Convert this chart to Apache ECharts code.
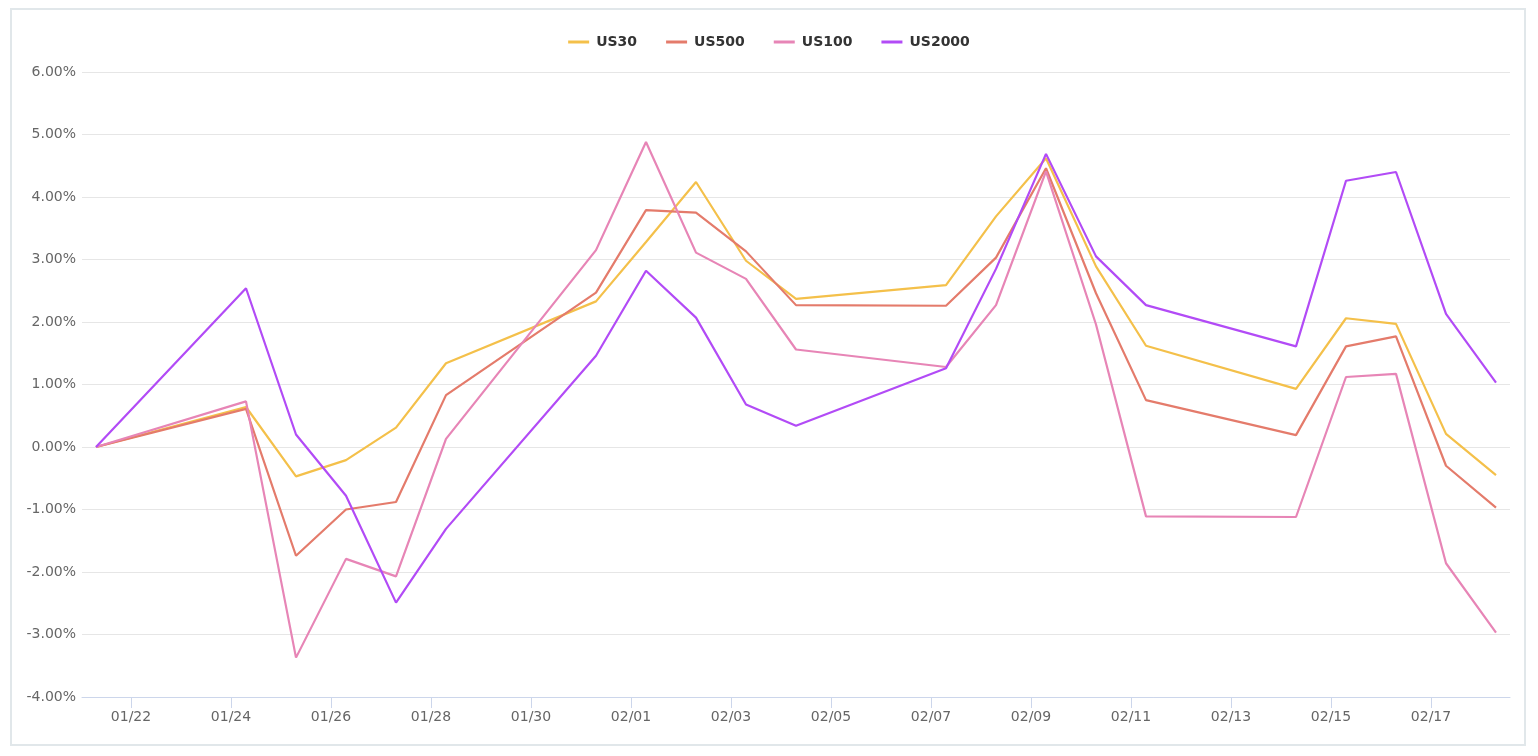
<!DOCTYPE html>
<html>
<head>
<meta charset="utf-8">
<script src="https://cdn.jsdelivr.net/npm/echarts@6/dist/echarts.min.js"></script>
<style>
  html, body { margin: 0; padding: 0; background: #fff; }
  #frame { position: absolute; left: 10px; top: 8px; width: 1516px; height: 738px; box-sizing: border-box; border: 2px solid #e1e7ea; }
  #chart { position: absolute; left: 0; top: 0; width: 1538px; height: 756px; }
</style>
</head>
<body>
<div id="frame"></div>
<div id="chart"></div>
<script>
// ---- data ----
const dates = ['2022-01-21','2022-01-24','2022-01-25','2022-01-26','2022-01-27','2022-01-28',
  '2022-01-31','2022-02-01','2022-02-02','2022-02-03','2022-02-04',
  '2022-02-07','2022-02-08','2022-02-09','2022-02-10','2022-02-11',
  '2022-02-14','2022-02-15','2022-02-16','2022-02-17','2022-02-18'];
const timeOfDay = 'T07:12:00Z';
const seriesNames = ['US30','US500','US100','US2000'];
const us30   = [0, 0.64, -0.47, -0.21, 0.31, 1.34, 2.33, 3.28, 4.24, 2.98, 2.37, 2.59, 3.69, 4.62, 2.89, 1.62, 0.93, 2.06, 1.97, 0.21, -0.45];
const us500  = [0, 0.61, -1.74, -1.00, -0.88, 0.83, 2.47, 3.79, 3.75, 3.13, 2.27, 2.26, 3.03, 4.46, 2.46, 0.75, 0.19, 1.61, 1.77, -0.30, -0.97];
const us100  = [0, 0.73, -3.37, -1.79, -2.07, 0.13, 3.15, 4.88, 3.11, 2.69, 1.56, 1.28, 2.27, 4.41, 1.96, -1.11, -1.12, 1.12, 1.17, -1.86, -2.97];
const us2000 = [0, 2.54, 0.20, -0.78, -2.49, -1.31, 1.46, 2.82, 2.07, 0.68, 0.34, 1.26, 2.85, 4.69, 3.05, 2.27, 1.61, 4.26, 4.40, 2.13, 1.03];
const tickDates = ['2022-01-22','2022-01-24','2022-01-26','2022-01-28','2022-01-30','2022-02-01',
  '2022-02-03','2022-02-05','2022-02-07','2022-02-09','2022-02-11','2022-02-13','2022-02-15','2022-02-17'];
const yMin = -4, yMax = 6, yStep = 1;
const colors = ['#f4c04a', '#e47b6b', '#e785b6', '#b24bf6'];

// ---- build ----
const ts = dates.map(d => Date.parse(d + timeOfDay));
const tickTs = tickDates.map(d => Date.parse(d + 'T00:00:00Z'));
const span = ts[ts.length - 1] - ts[0];
const xMin = ts[0] - span * 0.01;
const xMax = ts[ts.length - 1] + span * 0.01;
const pad = n => (n < 10 ? '0' : '') + n;
const fmtDate = v => { const d = new Date(v); return pad(d.getUTCMonth() + 1) + '/' + pad(d.getUTCDate()); };
const allValues = [us30, us500, us100, us2000];

const chart = echarts.init(document.getElementById('chart'), null, { renderer: 'canvas' });
chart.setOption({
  animation: false,
  color: colors,
  textStyle: { fontFamily: 'DejaVu Sans, sans-serif' },
  legend: {
    top: 30,
    left: 'center',
    icon: 'rect',
    itemWidth: 21,
    itemHeight: 3,
    itemGap: 29,
    data: seriesNames,
    textStyle: { fontSize: 14, fontWeight: 'bold', color: '#333', fontFamily: 'DejaVu Sans, sans-serif', padding: [0, 0, 0, 2] }
  },
  grid: { left: 82, right: 28, top: 72, bottom: 59 },
  xAxis: {
    type: 'value',
    min: xMin,
    max: xMax,
    splitLine: { show: false },
    axisLine: { onZero: false, lineStyle: { color: '#ccd6eb', width: 1 } },
    axisTick: { show: true, length: 11, lineStyle: { color: '#ccd6eb' }, customValues: tickTs },
    axisLabel: { customValues: tickTs, formatter: fmtDate, color: '#666', fontSize: 14, margin: 13 }
  },
  yAxis: {
    type: 'value',
    min: yMin,
    max: yMax,
    interval: yStep,
    axisLine: { show: false },
    axisTick: { show: false },
    splitLine: { lineStyle: { color: '#e6e6e6', width: 1 } },
    axisLabel: { formatter: v => v.toFixed(2) + '%', color: '#666', fontSize: 14, margin: 6 }
  },
  series: seriesNames.map((name, i) => ({
    name,
    type: 'line',
    symbol: 'none',
    lineStyle: { width: 2.2 },
    data: ts.map((t, j) => [t, allValues[i][j]])
  }))
});
</script>
</body>
</html>
